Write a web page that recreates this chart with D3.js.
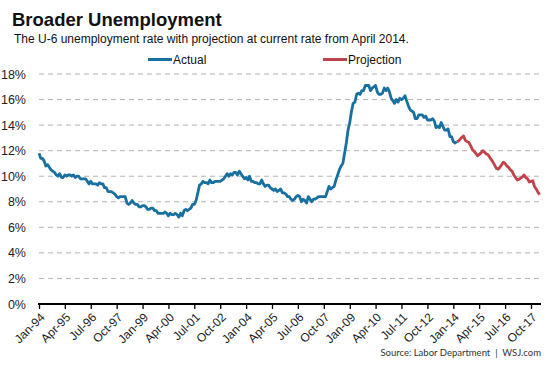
<!DOCTYPE html>
<html><head><meta charset="utf-8">
<script src="https://cdn.jsdelivr.net/npm/d3@7"></script>
<style>
body{margin:0;background:#fff;}
svg{display:block;font-family:"Liberation Sans",Arial,sans-serif;}
</style></head>
<body><svg id="c" width="553" height="369"></svg>
<script>
// Monthly U-6 rate, Jan 1994 – Mar 2014 (actual)
const actualStart = [1994, 0];
const actual = [
 11.8,11.4,11.4,11.2,10.8,10.9,10.7,10.5,10.4,10.3,10.1,10.0,
 10.2,9.9,9.9,10.1,10.0,10.1,10.1,10.0,10.1,9.9,10.0,10.0,
 9.8,9.8,9.8,9.8,9.6,9.4,9.6,9.4,9.4,9.4,9.3,9.5,
 9.4,9.4,9.1,9.1,8.8,8.8,8.8,8.7,8.6,8.4,8.3,8.4,
 8.4,8.4,8.4,7.9,7.8,7.9,8.1,7.9,7.8,7.8,7.6,7.6,
 7.7,7.7,7.6,7.4,7.4,7.5,7.5,7.3,7.3,7.1,7.1,7.1,
 7.1,7.2,7.1,6.9,7.1,7.0,7.0,7.1,7.0,6.8,7.1,6.9,
 7.3,7.4,7.3,7.4,7.5,7.8,7.8,8.1,8.7,9.3,9.4,9.6,
 9.5,9.5,9.4,9.7,9.5,9.5,9.6,9.6,9.6,9.6,9.7,9.8,
 10.0,10.2,10.0,10.2,10.1,10.3,10.3,10.1,10.4,10.2,10.0,9.8,
 9.9,9.7,10.0,9.6,9.6,9.5,9.5,9.4,9.4,9.7,9.4,9.2,
 9.3,9.3,9.1,9.0,8.9,9.0,8.8,8.9,9.0,8.7,8.7,8.6,
 8.4,8.4,8.2,8.1,8.2,8.4,8.5,8.4,8.0,8.2,8.1,7.9,
 8.4,8.2,8.0,8.2,8.2,8.3,8.4,8.4,8.4,8.4,8.4,8.8,
 9.2,9.0,9.1,9.2,9.7,10.1,10.5,10.8,11.0,11.8,12.6,13.6,
 14.2,15.1,15.7,15.8,16.4,16.5,16.4,16.7,16.7,17.1,17.1,17.1,
 16.7,16.9,17.0,17.1,16.6,16.4,16.4,16.5,16.9,16.7,16.9,16.6,
 16.1,15.9,15.7,16.0,15.8,16.1,16.0,16.1,16.3,15.9,15.5,15.2,
 15.1,15.0,14.5,14.5,14.8,14.8,14.8,14.6,14.7,14.4,14.4,14.4,
 14.5,14.3,13.8,13.9,13.8,14.2,13.9,13.6,13.6,13.7,13.1,13.1,
 12.7,12.6,12.7
];
// Projection, Apr 2014 – Mar 2018
const projectionStart = [2014, 3];
const projection = [
 12.75,12.9,13.05,13.15,12.8,12.7,12.65,12.4,12.1,11.95,11.8,11.6,
 11.7,11.8,12.0,11.9,11.75,11.7,11.5,11.3,11.1,10.85,10.6,10.55,
 10.7,10.9,11.1,11.0,10.8,10.7,10.5,10.4,10.1,9.9,9.7,9.75,
 9.85,9.95,10.1,9.9,9.8,9.55,9.6,9.65,9.2,9.0,8.75,8.55
];
const yTicks = [0,2,4,6,8,10,12,14,16,18];
const xTickStart = [1994, 0];
const xTickCount = 20;      // every 15 months: Jan-94 ... Oct-17
const xTickStepMonths = 15;
const title = "Broader Unemployment";
const subtitle = "The U-6 unemployment rate with projection at current rate from April 2014.";
const legendLabels = ["Actual", "Projection"];
const source = "Source: Labor Department  |  WSJ.com";

const blue = "#17709f", red = "#c0424b";
const svg = d3.select("#c");

const toSeries = (start, vals) => vals.map((v,i)=>({date:new Date(start[0], start[1]+i, 1), v}));
const act = toSeries(actualStart, actual);
const proj = toSeries(projectionStart, projection);
const projJoined = [act[act.length-1]].concat(proj);

const x = d3.scaleTime()
  .domain([new Date(1994,0,1), new Date(2017,9,1)])
  .range([39, 531]);
const y = d3.scaleLinear().domain([0,18]).range([304,74]);

// title
svg.append("text").attr("x",12).attr("y",26).attr("font-size",18.5).attr("font-weight","bold").attr("fill","#111").text(title);
svg.append("text").attr("x",14).attr("y",42.5).attr("font-size",12).attr("fill","#111").text(subtitle);

// legend
const leg = [{lab:legendLabels[0],c:blue,x:148},{lab:legendLabels[1],c:red,x:323}];
leg.forEach(l=>{
  svg.append("line").attr("x1",l.x).attr("x2",l.x+24).attr("y1",59.5).attr("y2",59.5).attr("stroke",l.c).attr("stroke-width",3);
  svg.append("text").attr("x",l.x+25).attr("y",63.5).attr("font-size",12).attr("fill","#111").text(l.lab);
});

// gridlines
svg.append("g").selectAll("line").data(yTicks.filter(t=>t>0)).join("line")
  .attr("x1",39).attr("x2",539).attr("y1",d=>y(d)).attr("y2",d=>y(d))
  .attr("stroke","#b3b3b3").attr("stroke-width",1).attr("stroke-dasharray","5,4");

// y labels
svg.append("g").selectAll("text").data(yTicks).join("text")
  .attr("x",26).attr("y",d=>y(d)+4.5).attr("text-anchor","end")
  .attr("font-size",12.5).attr("fill","#222").text(d=>d+"%");

// x axis
const xTicks = d3.range(xTickCount).map(i=>new Date(xTickStart[0], xTickStart[1]+i*xTickStepMonths, 1));
const fmt = d3.timeFormat("%b-%y");
const xAxis = d3.axisBottom(x).tickValues(xTicks).tickFormat(fmt).tickSize(5).tickSizeOuter(0);
const gx = svg.append("g").attr("transform","translate(0,304)").call(xAxis);
gx.select(".domain").remove();
gx.append("line").attr("x1",38).attr("x2",541).attr("y1",0).attr("y2",0).attr("stroke","#000").attr("stroke-width",2);
gx.selectAll(".tick line").attr("stroke","#000").attr("stroke-width",1.3);
gx.selectAll(".tick text")
  .attr("font-family","Liberation Sans, Arial, sans-serif").attr("font-size",12).attr("fill","#222")
  .attr("text-anchor","end").attr("dy",null).attr("y",null)
  .attr("transform","translate(6,14) rotate(-45)");

// lines
const line = d3.line().x(d=>x(d.date)).y(d=>y(d.v));
svg.append("path").datum(projJoined).attr("d",line).attr("fill","none").attr("stroke",red).attr("stroke-width",2.8).attr("stroke-linejoin","round");
svg.append("path").datum(act).attr("d",line).attr("fill","none").attr("stroke",blue).attr("stroke-width",2.8).attr("stroke-linejoin","round");

// source
svg.append("text").attr("x",541).attr("y",356).attr("text-anchor","end")
  .attr("font-family","Lato, 'Open Sans', sans-serif").attr("font-size",9.5).attr("fill","#333").attr("xml:space","preserve").text(source);
</script></body></html>
